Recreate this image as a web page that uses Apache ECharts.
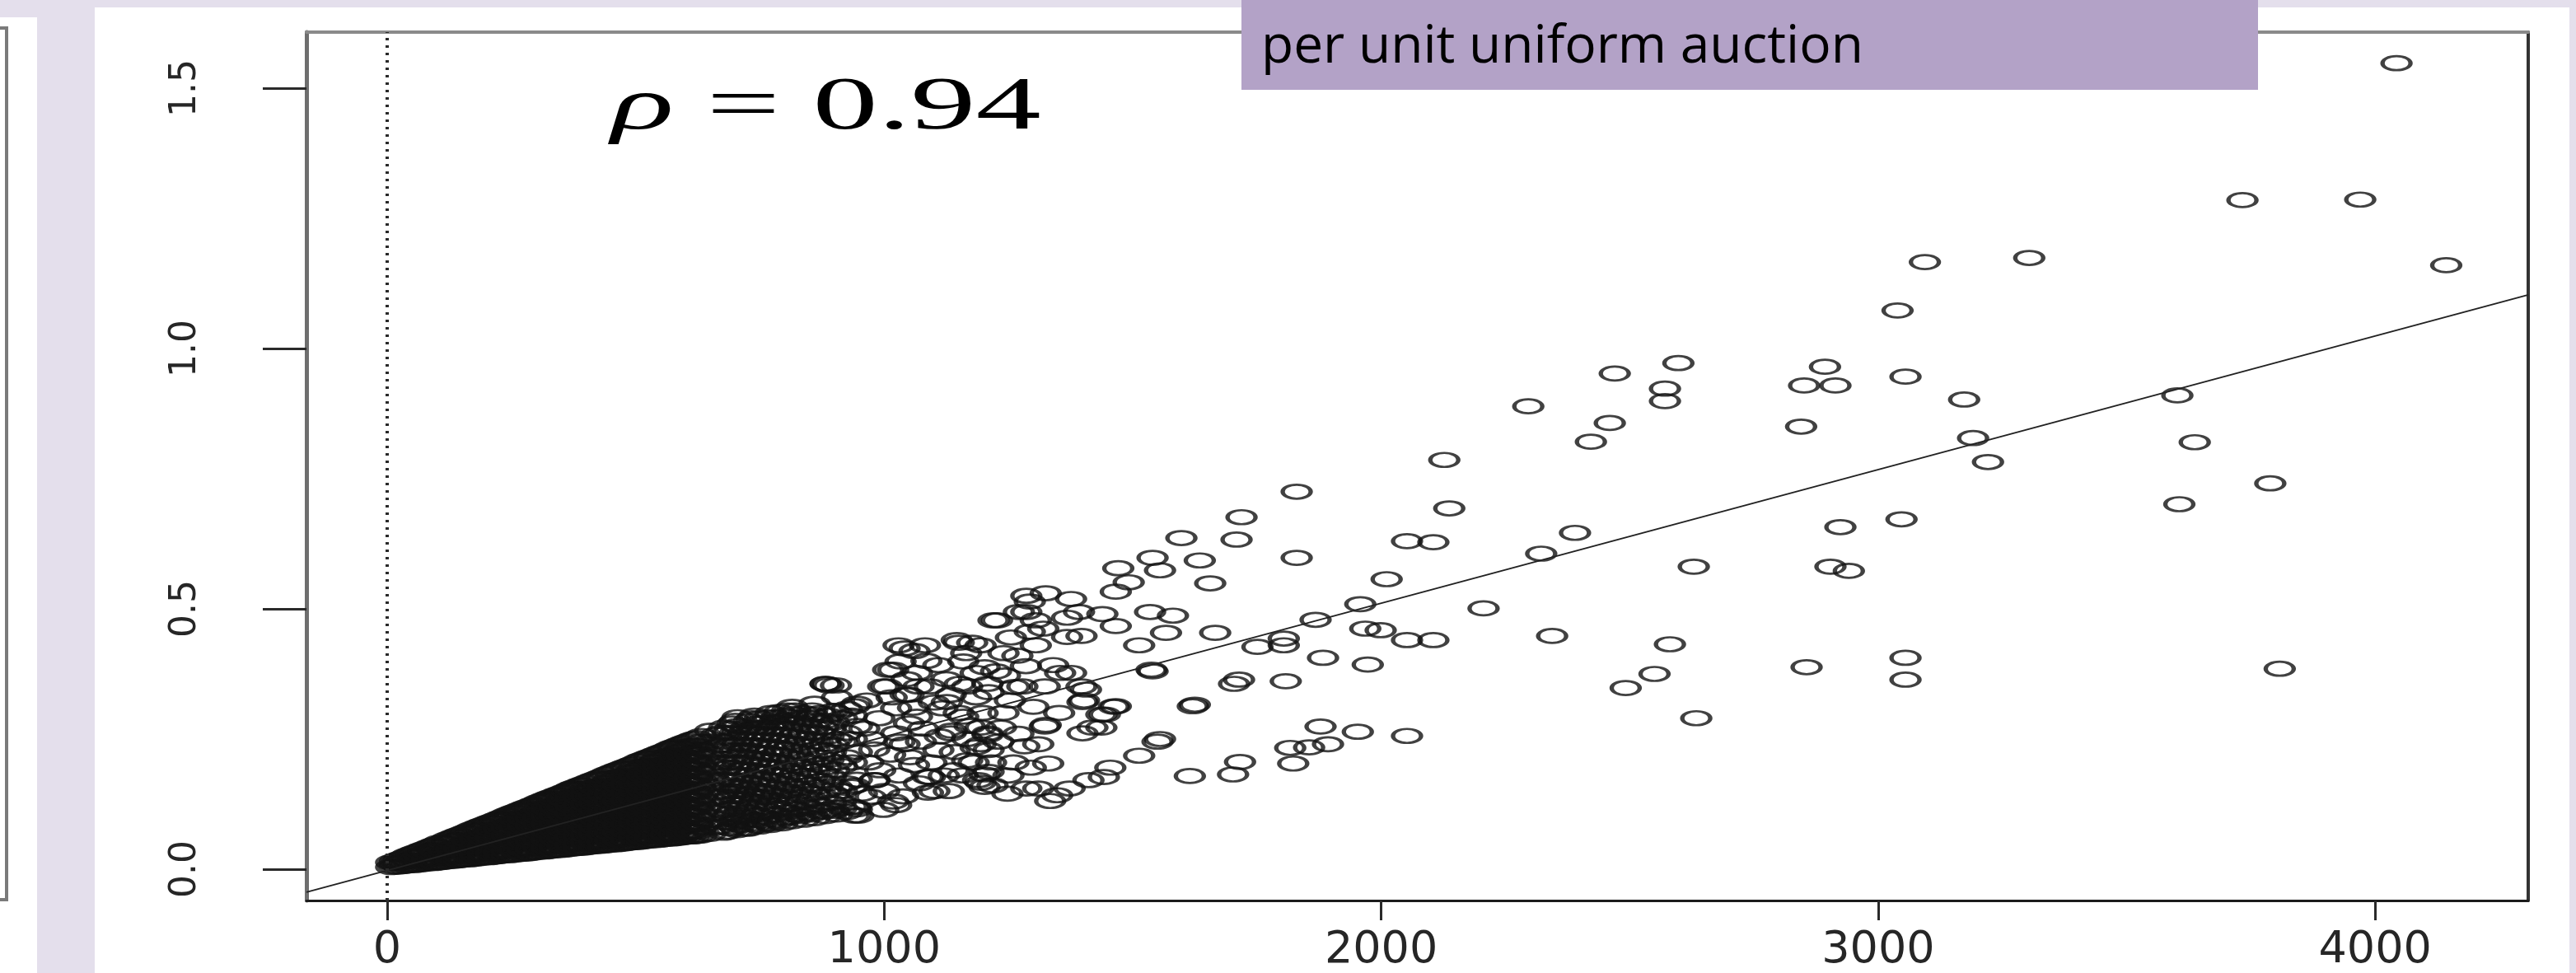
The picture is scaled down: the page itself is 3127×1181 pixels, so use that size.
<!DOCTYPE html>
<html><head><meta charset="utf-8"><title>Scatter rho 0.94</title>
<script src="https://cdn.jsdelivr.net/npm/echarts@6.0.0/dist/echarts.min.js"></script>
<style>html,body{margin:0;padding:0;background:#E4DFEC;}#chart{width:3127px;height:1181px;}</style>
</head><body><div id="chart"></div>
<script>
// ---- axis ticks / ranges ----
const xTicks = [0, 1000, 2000, 3000, 4000];
const yTicks = [0, 0.5, 1.0, 1.5];
const xRange = [-162.5, 4308];
const yRange = [-0.0601, 1.6076];
// ---- fitted line (intercept, slope) ----
const fitIntercept = -0.0024;
const fitSlope = 0.0002566;
// ---- annotation texts ----
const corrSymbol = 'ρ';
const corrValue = '0.94';
const boxTitle = 'per unit uniform auction';

// ---- dense black wedge near the origin: [x, [y...]] ----
const denseColumns = [
 [8,[0.004,0.013]],
 [24,[0.005,0.012,0.019]],
 [40,[0.007,0.017,0.026]],
 [56,[0.008,0.023,0.032]],
 [72,[0.010,0.015,0.030,0.038]],
 [88,[0.012,0.022,0.037,0.044]],
 [104,[0.013,0.028,0.043,0.051]],
 [120,[0.015,0.020,0.035,0.050,0.057]],
 [136,[0.016,0.026,0.041,0.056,0.063]],
 [152,[0.018,0.033,0.048,0.063,0.069]],
 [168,[0.019,0.024,0.039,0.054,0.069,0.076]],
 [184,[0.021,0.031,0.046,0.061,0.076,0.082]],
 [200,[0.023,0.038,0.053,0.068,0.083,0.088]],
 [216,[0.024,0.029,0.044,0.059,0.074,0.089,0.094]],
 [232,[0.026,0.036,0.051,0.066,0.081,0.096,0.100]],
 [248,[0.027,0.042,0.057,0.072,0.087,0.102,0.107]],
 [264,[0.029,0.034,0.049,0.064,0.079,0.094,0.109,0.113]],
 [280,[0.030,0.040,0.055,0.070,0.085,0.100,0.115,0.119]],
 [296,[0.032,0.047,0.062,0.077,0.092,0.107,0.122,0.125]],
 [312,[0.034,0.039,0.054,0.069,0.084,0.099,0.114,0.129,0.132]],
 [328,[0.035,0.045,0.060,0.075,0.090,0.105,0.120,0.135,0.138]],
 [344,[0.037,0.052,0.067,0.082,0.097,0.112,0.127,0.142,0.144]],
 [360,[0.038,0.043,0.058,0.073,0.088,0.103,0.118,0.133,0.148,0.150]],
 [376,[0.040,0.050,0.065,0.080,0.095,0.110,0.125,0.140,0.155,0.157]],
 [392,[0.041,0.056,0.071,0.086,0.101,0.116,0.131,0.146,0.161,0.163]],
 [408,[0.043,0.048,0.063,0.078,0.093,0.108,0.123,0.138,0.153,0.169]],
 [424,[0.045,0.055,0.070,0.085,0.100,0.115,0.130,0.145,0.160,0.175]],
 [440,[0.046,0.061,0.076,0.091,0.106,0.121,0.136,0.151,0.166,0.182]],
 [456,[0.048,0.053,0.068,0.083,0.098,0.113,0.128,0.143,0.158,0.173,0.188]],
 [472,[0.049,0.059,0.074,0.089,0.104,0.119,0.134,0.149,0.164,0.179,0.194]],
 [488,[0.051,0.066,0.081,0.096,0.111,0.126,0.141,0.156,0.171,0.186,0.200]],
 [504,[0.052,0.057,0.072,0.087,0.102,0.117,0.132,0.147,0.162,0.177,0.192,0.207]],
 [520,[0.054,0.064,0.079,0.094,0.109,0.124,0.139,0.154,0.169,0.184,0.199,0.213]],
 [536,[0.056,0.071,0.086,0.101,0.116,0.131,0.146,0.161,0.176,0.191,0.206,0.219]],
 [552,[0.057,0.062,0.077,0.092,0.107,0.122,0.137,0.152,0.167,0.182,0.197,0.212,0.225]],
 [568,[0.059,0.069,0.084,0.099,0.114,0.129,0.144,0.159,0.174,0.189,0.204,0.219,0.232]],
 [584,[0.060,0.075,0.090,0.105,0.120,0.135,0.150,0.165,0.180,0.195,0.210,0.225,0.238]],
 [600,[0.062,0.067,0.082,0.097,0.112,0.127,0.142,0.157,0.172,0.187,0.202,0.217,0.232,0.244]],
 [616,[0.063,0.073,0.088,0.103,0.118,0.133,0.148,0.163,0.178,0.193,0.208,0.223,0.238,0.250]],
 [632,[0.065,0.080,0.095,0.110,0.125,0.140,0.155,0.170,0.185,0.200,0.215,0.230,0.245,0.256]]
];
// ---- second interleaved layer of the wedge ----
const denseColumnsB = [
 [16,[0.005,0.011,0.016]],
 [32,[0.006,0.014,0.022]],
 [48,[0.008,0.016,0.024,0.029]],
 [64,[0.009,0.017,0.026,0.035]],
 [80,[0.011,0.019,0.034,0.041]],
 [96,[0.012,0.020,0.035,0.047]],
 [112,[0.014,0.022,0.037,0.052]],
 [128,[0.016,0.024,0.039,0.054,0.060]],
 [144,[0.017,0.025,0.040,0.055,0.066]],
 [160,[0.019,0.027,0.042,0.057,0.072]],
 [176,[0.020,0.028,0.043,0.058,0.073,0.079]],
 [192,[0.022,0.030,0.045,0.060,0.075,0.085]],
 [208,[0.023,0.031,0.046,0.061,0.076,0.091]],
 [224,[0.025,0.033,0.048,0.063,0.078,0.093,0.097]],
 [240,[0.027,0.035,0.050,0.065,0.080,0.095,0.104]],
 [256,[0.028,0.036,0.051,0.066,0.081,0.096,0.110]],
 [272,[0.030,0.038,0.053,0.068,0.083,0.098,0.113,0.116]],
 [288,[0.031,0.039,0.054,0.069,0.084,0.099,0.114,0.122]],
 [304,[0.033,0.041,0.056,0.071,0.086,0.101,0.116,0.129]],
 [320,[0.034,0.042,0.057,0.072,0.087,0.102,0.117,0.132,0.135]],
 [336,[0.036,0.044,0.059,0.074,0.089,0.104,0.119,0.134,0.141]],
 [352,[0.037,0.045,0.060,0.075,0.090,0.105,0.120,0.135,0.147]],
 [368,[0.039,0.047,0.062,0.077,0.092,0.107,0.122,0.137,0.152,0.154]],
 [384,[0.041,0.049,0.064,0.079,0.094,0.109,0.124,0.139,0.154,0.160]],
 [400,[0.042,0.050,0.065,0.080,0.095,0.110,0.125,0.140,0.155,0.166]],
 [416,[0.044,0.052,0.067,0.082,0.097,0.112,0.127,0.142,0.157,0.172]],
 [432,[0.045,0.053,0.068,0.083,0.098,0.113,0.128,0.143,0.158,0.173,0.178]],
 [448,[0.047,0.055,0.070,0.085,0.100,0.115,0.130,0.145,0.160,0.175,0.185]],
 [464,[0.048,0.056,0.071,0.086,0.101,0.116,0.131,0.146,0.161,0.176,0.191]],
 [480,[0.050,0.058,0.073,0.088,0.103,0.118,0.133,0.148,0.163,0.178,0.193,0.197]],
 [496,[0.052,0.060,0.075,0.090,0.105,0.120,0.135,0.150,0.165,0.180,0.195,0.203]],
 [512,[0.053,0.061,0.076,0.091,0.106,0.121,0.136,0.151,0.166,0.181,0.196,0.210]],
 [528,[0.055,0.063,0.078,0.093,0.108,0.123,0.138,0.153,0.168,0.183,0.198,0.213,0.216]],
 [544,[0.056,0.064,0.079,0.094,0.109,0.124,0.139,0.154,0.169,0.184,0.199,0.214,0.222]],
 [560,[0.058,0.066,0.081,0.096,0.111,0.126,0.141,0.156,0.171,0.186,0.201,0.216,0.228]],
 [576,[0.059,0.067,0.082,0.097,0.112,0.127,0.142,0.157,0.172,0.187,0.202,0.217,0.232,0.235]],
 [592,[0.061,0.069,0.084,0.099,0.114,0.129,0.144,0.159,0.174,0.189,0.204,0.219,0.234,0.241]],
 [608,[0.063,0.071,0.086,0.101,0.116,0.131,0.146,0.161,0.176,0.191,0.206,0.221,0.236,0.247]],
 [624,[0.064,0.072,0.087,0.102,0.117,0.132,0.147,0.162,0.177,0.192,0.207,0.222,0.237,0.252]]
];
// ---- darker transition band: [x, [y...]] ----
const semiDenseColumns = [
 [650,[0.068,0.095,0.125,0.155,0.185,0.215,0.245,0.266]],
 [672,[0.082,0.112,0.140,0.172,0.205,0.238,0.262]],
 [685,[0.072,0.100,0.132,0.160,0.195,0.228,0.262]],
 [695,[0.088,0.118,0.150,0.185,0.215,0.250,0.280]],
 [705,[0.075,0.105,0.140,0.170,0.205,0.240,0.275,0.292]],
 [716,[0.092,0.125,0.158,0.192,0.228,0.262]],
 [728,[0.078,0.110,0.145,0.180,0.215,0.250,0.285]],
 [739,[0.095,0.130,0.165,0.200,0.238,0.272,0.295]],
 [750,[0.082,0.118,0.150,0.188,0.222,0.260,0.290]],
 [761,[0.100,0.138,0.172,0.210,0.248,0.282]],
 [772,[0.085,0.123,0.158,0.195,0.232,0.272,0.300]],
 [783,[0.105,0.142,0.180,0.220,0.258,0.292]],
 [795,[0.088,0.128,0.165,0.205,0.245,0.285]],
 [805,[0.110,0.150,0.190,0.230,0.270,0.305]],
 [815,[0.092,0.135,0.172,0.212,0.255,0.298,0.312]],
 [826,[0.115,0.155,0.198,0.240,0.280]],
 [838,[0.095,0.140,0.180,0.222,0.262,0.300]],
 [849,[0.118,0.162,0.205,0.250,0.290]],
 [860,[0.098,0.145,0.188,0.230,0.272,0.318]],
 [871,[0.122,0.170,0.215,0.262,0.300]],
 [882,[0.102,0.150,0.195,0.240,0.285,0.356]],
 [893,[0.128,0.178,0.225,0.272]],
 [905,[0.105,0.158,0.205,0.250,0.300,0.330]],
 [925,[0.110,0.165,0.215,0.262,0.308]],
 [945,[0.115,0.172,0.225,0.275,0.318]]
];
const semiDenseColumnsB = [
 [662,[0.080,0.108,0.138,0.168,0.198,0.228,0.258]],
 [678,[0.070,0.090,0.122,0.150,0.180,0.212,0.245,0.272]],
 [690,[0.078,0.108,0.140,0.172,0.205,0.238,0.270]],
 [700,[0.080,0.095,0.128,0.160,0.195,0.228,0.262,0.285]],
 [710,[0.085,0.115,0.150,0.182,0.218,0.252]],
 [722,[0.078,0.100,0.135,0.168,0.205,0.238,0.272]],
 [734,[0.088,0.120,0.155,0.190,0.228,0.262,0.290]],
 [745,[0.085,0.105,0.140,0.175,0.210,0.248,0.280]],
 [756,[0.092,0.128,0.162,0.200,0.238,0.272]],
 [767,[0.088,0.112,0.148,0.185,0.222,0.260,0.292]],
 [778,[0.095,0.132,0.170,0.208,0.245,0.282]],
 [789,[0.092,0.118,0.155,0.195,0.232,0.272,0.302]],
 [800,[0.098,0.140,0.180,0.218,0.258,0.295]],
 [810,[0.100,0.125,0.162,0.202,0.242,0.282]],
 [821,[0.105,0.145,0.185,0.225,0.265,0.305]],
 [832,[0.102,0.130,0.170,0.212,0.252,0.290]],
 [844,[0.108,0.150,0.192,0.235,0.275]],
 [855,[0.105,0.135,0.178,0.220,0.262,0.305]],
 [866,[0.112,0.158,0.200,0.245,0.285]],
 [877,[0.110,0.140,0.185,0.228,0.272]],
 [888,[0.115,0.165,0.210,0.255,0.295]],
 [899,[0.112,0.145,0.190,0.238,0.282]],
 [915,[0.118,0.150,0.198,0.245,0.290]],
 [935,[0.120,0.158,0.205,0.250,0.295]]
];
// ---- separate rings, x 850 - 1550 ----
const midPoints = [
 [888,0.353],[903,0.353],[1227,0.478],[1286,0.525],[1286,0.494],[1041,0.424],[1082,0.430],[1150,0.435],[1194,0.430],
 [1008,0.383],[1033,0.399],[1066,0.377],[1109,0.392],[1159,0.399],[1202,0.388],[1243,0.372],[1278,0.351],
 [998,0.351],[1049,0.335],[1092,0.351],[1134,0.335],[1167,0.351],[1210,0.340],[1253,0.324],
 [1024,0.309],[1066,0.293],[1117,0.309],[1159,0.293],[1194,0.272],[1235,0.272],[1134,0.261],
 [1024,0.261],[1041,0.240],[1074,0.245],[1109,0.229],[1167,0.250],[1194,0.240],[1210,0.229],
 [1167,0.209],[1210,0.187],[1194,0.166],[1218,0.161],[1092,0.177],[1101,0.150],[981,0.171],[940,0.161],
 [913,0.130],[973,0.139],[1024,0.123],[940,0.103],[998,0.114],[1286,0.155],
 [812,0.293],[855,0.297],[897,0.304],[940,0.313],[965,0.324],
 [1325,0.530],[1293,0.514],[1271,0.494],[1305,0.478],[1293,0.456],[1305,0.430],[1220,0.478],[1368,0.483],[1368,0.446],
 [882,0.356],[1029,0.430],[1061,0.419],[1146,0.440],[1177,0.435],[1240,0.415],
 [1325,0.277],[1208,0.261],[1136,0.266],
 [1018,0.383],[1005,0.351],[1043,0.335],[1069,0.351],
 [1018,0.130],[948,0.103],[942,0.119],[980,0.171],[1031,0.245],[1208,0.258],[1184,0.234],[1126,0.321],
 [1152,0.356],[1184,0.377],[1208,0.356],[1189,0.171],[1202,0.158],[1088,0.147],[1088,0.177],[1202,0.182],
 [1455,0.195],[1442,0.177],[1411,0.171],[1373,0.155],[1348,0.142],[1310,0.155],[1330,0.203],[1334,0.131],
 [1462,0.312],[1437,0.297],[1437,0.272],[1399,0.261],[1399,0.321],[1406,0.345],[1323,0.274],[1323,0.351],[1354,0.377],
 [1260,0.205],[1282,0.236],[1300,0.312],[1340,0.392],[1352,0.300],[1268,0.410],[1255,0.445],[1320,0.462],
 [1060,0.200],[1140,0.190],[1250,0.180],[1050,0.280],[980,0.230],[960,0.270],
 [955,0.145],[968,0.205],[975,0.250],[990,0.290],[992,0.190],[1000,0.150],[1012,0.220],[1015,0.330],
 [1030,0.180],[1038,0.140],[1045,0.365],[1052,0.215],[1058,0.310],[1070,0.165],[1078,0.270],[1085,0.400],
 [1095,0.205],[1100,0.320],[1112,0.255],[1120,0.180],[1125,0.365],[1130,0.150],[1142,0.225],[1150,0.300],
 [1158,0.180],[1165,0.415],[1172,0.275],[1180,0.205],[1185,0.330],[1198,0.300],[1215,0.205],[1225,0.380],
 [1230,0.245],[1240,0.300],[1248,0.145],[1262,0.350],[1270,0.260],[1285,0.390],[1295,0.195],[1310,0.240]
];
// ---- sparse outer rings ----
const outerPoints = [
 [1376,0.519],[1392,0.494],[1439,0.490],[1535,0.494],[1581,0.487],[1466,0.467],[1397,0.448],
 [1598,0.636],[1635,0.593],[1540,0.598],[1555,0.574],[1471,0.578],[1656,0.549],[1492,0.551],[1466,0.533],
 [1709,0.633],[1719,0.676],[1830,0.725],[1830,0.598],[2127,0.786],[2137,0.693],[2052,0.630],[2105,0.628],[2390,0.646],[2322,0.606],
 [2598,0.972],[2470,0.952],[2571,0.923],[2571,0.899],[2460,0.857],[2422,0.821],[2296,0.889],[2893,0.965],[2851,0.929],[2914,0.929],[2845,0.850],
 [2924,0.657],[2629,0.581],[2904,0.581],[2941,0.573],[2011,0.557],[1958,0.509],[1868,0.479],[2206,0.501],[2344,0.448],
 [1968,0.462],[1999,0.459],[2052,0.440],[2105,0.440],[2581,0.432],[2550,0.375],[2492,0.348],[2634,0.290],[2856,0.388],
 [1804,0.443],[1804,0.430],[1751,0.427],[1666,0.454],[1567,0.454],[1513,0.430],[1540,0.380],[1883,0.406],[1973,0.393],
 [1808,0.361],[1714,0.364],[1704,0.356],[1625,0.316],[1397,0.351],[1402,0.324],[1466,0.313],[1444,0.297],[1419,0.272],
 [1878,0.274],[1953,0.264],[2052,0.256],[1555,0.250],[1376,0.377],
 [1893,0.240],[1855,0.234],[1817,0.233],[1823,0.203],[1716,0.206],[1702,0.182],[1615,0.179],[1550,0.245],[1513,0.218],
 [1538,0.383],[1621,0.313],
 [4043,1.548],[3733,1.285],[3970,1.286],[4143,1.160],[3304,1.174],[3094,1.166],[3039,1.073],
 [3055,0.946],[3173,0.902],[3191,0.828],[3221,0.782],[3602,0.910],[3637,0.820],[3606,0.701],[3789,0.741],[3808,0.385],
 [3047,0.672],[3055,0.406],[3055,0.364]
];

const expand = cols => cols.flatMap(([x, ys]) => ys.map(y => [x, y]));
const allPoints = expand(denseColumns).concat(expand(denseColumnsB), expand(semiDenseColumns),
                                                expand(semiDenseColumnsB), midPoints, outerPoints);
const fitEnds = xRange.map(x => [x, fitIntercept + fitSlope * x]);

const ellipse = 'path://M0 8A18 8 0 1 1 36 8A18 8 0 1 1 0 8Z';
const chart = echarts.init(document.getElementById('chart'), null, {renderer: 'canvas'});
const hidden = {show: false};
chart.setOption({
  animation: false,
  backgroundColor: '#E4DFEC',
  grid: {left: 372, top: 39, right: 58, bottom: 88},
  xAxis: [
    {type: 'value', position: 'bottom', min: xRange[0], max: xRange[1],
     axisLine: {show: true, onZero: false, lineStyle: {color: '#1c1c1c', width: 3}},
     axisTick: {show: true, customValues: xTicks, length: 24, lineStyle: {color: '#2a2a2a', width: 3}},
     axisLabel: {show: true, customValues: xTicks, margin: 34, fontSize: 54, fontFamily: 'DejaVu Sans', color: '#262626',
                 formatter: v => String(Math.round(v))},
     splitLine: hidden},
    {type: 'value', position: 'top', min: xRange[0], max: xRange[1],
     axisLine: {show: true, onZero: false, lineStyle: {color: '#8a8a8a', width: 4}},
     axisTick: hidden, axisLabel: hidden, splitLine: hidden}
  ],
  yAxis: [
    {type: 'value', position: 'left', min: yRange[0], max: yRange[1],
     axisLine: {show: true, onZero: false, lineStyle: {color: '#6e6e6e', width: 5}},
     axisTick: {show: true, customValues: yTicks, length: 53, lineStyle: {color: '#2a2a2a', width: 3}},
     axisLabel: {show: true, customValues: yTicks, rotate: 90, margin: 124, fontSize: 44, fontFamily: 'DejaVu Sans', color: '#262626',
                 formatter: v => Number(v).toFixed(1)},
     splitLine: hidden},
    {type: 'value', position: 'right', min: yRange[0], max: yRange[1],
     axisLine: {show: true, onZero: false, lineStyle: {color: '#333333', width: 4}},
     axisTick: hidden, axisLabel: hidden, splitLine: hidden}
  ],
  series: [
    {type: 'scatter', data: allPoints, symbol: ellipse, symbolSize: [34, 17],
     itemStyle: {color: 'rgba(0,0,0,0)', borderColor: '#111111', borderWidth: 3.8},
     emphasis: {disabled: true}, silent: true, large: false,
     markLine: {silent: true, symbol: 'none', label: {show: false},
                lineStyle: {type: [3, 6], color: '#2a2a2a', width: 4},
                data: [{xAxis: 0}]}},
    {type: 'line', data: fitEnds, showSymbol: false, silent: true, z: 3,
     lineStyle: {color: '#222222', width: 2}}
  ],
  graphic: [
    {type: 'rect', z: -10, shape: {x: 0, y: 21, width: 45, height: 1160}, style: {fill: '#ffffff'}},
    {type: 'polyline', z: -9, shape: {points: [[0, 34], [8, 34], [8, 1092], [0, 1092]]}, style: {stroke: '#7a7a7a', lineWidth: 4, fill: null}},
    {type: 'rect', z: -10, shape: {x: 115, y: 9, width: 3004, height: 1172}, style: {fill: '#ffffff'}},
    {type: 'rect', z: 100, shape: {x: 1507, y: 0, width: 1234, height: 109}, style: {fill: '#B3A2C7'}},
    {type: 'text', z: 101, x: 1531, y: 58,
     style: {text: boxTitle, fontFamily: 'Open Sans', fontSize: 64, fill: '#000000', verticalAlign: 'middle', align: 'left'}},
    {type: 'text', z: 101, x: 742, y: 132, scaleX: 1.76,
     style: {text: '{r|' + corrSymbol + '} = ' + corrValue, fontFamily: 'Liberation Serif', fontSize: 90, fill: '#000000',
             verticalAlign: 'middle', align: 'left',
             rich: {r: {fontFamily: 'Liberation Serif', fontStyle: 'italic', fontSize: 90, fill: '#000000'}}}}
  ]
});
</script></body></html>
